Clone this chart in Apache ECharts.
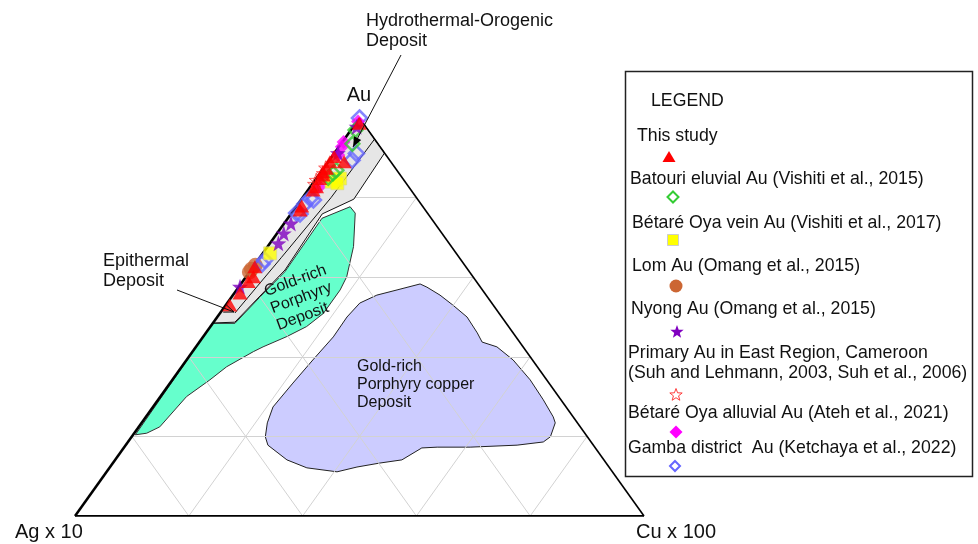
<!DOCTYPE html>
<html>
<head>
<meta charset="utf-8">
<script src="https://cdn.jsdelivr.net/npm/echarts@6/dist/echarts.min.js"></script>
<style>
  html, body { margin: 0; padding: 0; background: #ffffff; }
  #chart { width: 978px; height: 544px; }
</style>
</head>
<body>
<div id="chart"></div>
<script>
// ---- Ternary data: every point is [Au %, Cu %]; Ag makes up the remainder ----
const cornerLabels = ['Au', 'Ag x 10', 'Cu x 100'];
const gridSteps = [20, 40, 60, 80];

const thisStudy = [
  [98.7, 0.6], [89.0, 2.8], [90.3, 0.4], [89.0, 0.3], [87.4, 0.5], [86.5, 0.3],
  [85.7, 0.8], [84.8, 0.6], [82.7, 1.1], [81.9, 0.9], [77.9, 0.9], [76.9, 1.1],
  [62.6, 0.3], [60.1, 1.3], [58.9, 1.0], [56.0, 1.0], [53.0, 0.7]
];
const batouriEluvial = [[97.0, 0.8], [93.5, 2.0], [86.9, 2.5], [86.1, 2.3], [85.0, 2.0]];
const betareVein = [[84.4, 3.5], [84.8, 4.2], [84.0, 3.1], [83.6, 4.3], [66.0, 1.3]];
const lomAu = [[63.0, 0.2], [62.0, 0.0], [61.3, 0.0]];
const nyongAu = [[97.8, 0.6], [91.2, 0.6], [73.5, 1.2], [71.0, 1.2], [68.5, 1.5], [57.6, 0.2]];
const primaryEast = [[87.5, 0.3], [86.1, 0.6], [84.4, 0.2], [83.4, 0.4]];
const betareAlluvial = [[99.1, 0.2], [94.0, 0.2], [92.8, 0.5], [90.7, 0.9], [82.7, 1.6]];
const gambaAu = [
  [100, 0], [91.1, 3.9], [89.4, 4.0], [79.8, 1.4], [79.4, 2.2], [78.4, 1.2],
  [76.1, 0.9], [75.9, 1.6], [64.3, 1.2], [63.3, 1.2]
];

// Deposit fields, outlined in the same [Au %, Cu %] space
const orogenicField = [[100, 0], [91.2, 8.8], [79.6, 9.2], [75.9, 5.5], [61.8, 6.0], [48.7, 3.75], [48.5, 0]];
const epithermalDivide = [[94.7, 5.3], [80.0, 5.0], [65.0, 3.8], [51.0, 2.6]];
const porphyryField = [
  [20.4, 0.4], [20.8, 2.2], [22.4, 3.7], [30.0, 4.6], [34.2, 6.6], [37.5, 7.9],
  [41.3, 10.7], [42.5, 11.8], [45.1, 14.7], [47.6, 16.9], [50.9, 18.2], [56.8, 18.2],
  [60.1, 17.7], [67.7, 15.1], [76.1, 11.2], [77.7, 9.5], [74.8, 6.0], [61.4, 6.2],
  [55.1, 5.0], [48.4, 3.9], [48.4, 0]
];
const porphyryCuField = [
  [19.9, 23.5], [17.8, 25.0], [14.1, 30.2], [12.1, 34.7], [11.1, 40.5], [12.3, 43.4],
  [13.3, 46.9], [14.1, 50.4], [17.1, 52.4], [17.3, 55.0], [17.3, 60.8], [17.8, 68.8],
  [18.6, 73.0], [19.9, 73.6], [23.4, 72.7], [24.9, 71.6], [29.2, 67.7], [34.2, 62.9],
  [39.2, 57.4], [42.5, 52.9], [43.7, 49.7], [46.0, 47.7], [50.0, 43.9], [53.0, 39.9],
  [55.5, 36.4], [57.5, 33.1], [58.3, 31.5], [56.8, 28.2], [55.5, 25.3], [53.5, 23.3],
  [50.0, 22.8], [45.0, 22.9], [39.2, 22.2], [33.4, 21.6], [27.4, 21.1], [23.4, 22.1]
];

const legendTitle = 'LEGEND';
const legendEntries = [
  'This study',
  'Batouri eluvial Au (Vishiti et al., 2015)',
  'Bétaré Oya vein Au (Vishiti et al., 2017)',
  'Lom Au (Omang et al., 2015)',
  'Nyong Au (Omang et al., 2015)',
  'Primary Au in East Region, Cameroon\n(Suh and Lehmann, 2003, Suh et al., 2006)',
  'Bétaré Oya alluvial Au (Ateh et al., 2021)',
  'Gamba district  Au (Ketchaya et al., 2022)'
];

// ---- helpers ----
// [Au, Cu] -> plot space: Ag corner at (0,0), Cu corner at (1,0), Au apex at (0.5,1)
function toXY(p) {
  const au = p[0] / 100, cu = p[1] / 100;
  return [cu + au / 2, au];
}

function starPoints(cx, cy, R, r) {
  const pts = [];
  for (let i = 0; i < 10; i++) {
    const a = -Math.PI / 2 + i * Math.PI / 5;
    const rad = i % 2 ? r : R;
    pts.push([cx + rad * Math.cos(a), cy + rad * Math.sin(a)]);
  }
  return pts;
}
const starSymbol = 'path://M' + starPoints(50, 50, 50, 20)
  .map(p => p[0].toFixed(2) + ',' + p[1].toFixed(2)).join('L') + 'Z';

const FONT = '"Liberation Sans", Arial, Helvetica, sans-serif';
const TEXT = '#111111';

function fieldSeries(name, verts, fill, stroke, lw, z) {
  return {
    type: 'custom', name: name, coordinateSystem: 'cartesian2d', silent: true, clip: false, z: z,
    data: [[0, 0]],
    renderItem: function (params, api) {
      return {
        type: 'polygon',
        shape: { points: verts.map(v => api.coord(toXY(v))) },
        style: { fill: fill, stroke: stroke, lineWidth: lw }
      };
    }
  };
}

function pathSeries(name, verts, stroke, lw, z) {
  return {
    type: 'custom', name: name, coordinateSystem: 'cartesian2d', silent: true, clip: false, z: z,
    data: [[0, 0]],
    renderItem: function (params, api) {
      return {
        type: 'polyline',
        shape: { points: verts.map(v => api.coord(toXY(v))) },
        style: { fill: 'none', stroke: stroke, lineWidth: lw }
      };
    }
  };
}

// grid lines at constant Au, constant Cu and constant Ag
const gridSegments = [];
gridSteps.forEach(s => {
  gridSegments.push({ coords: [toXY([s, 0]), toXY([s, 100 - s])] });
  gridSegments.push({ coords: [toXY([0, s]), toXY([100 - s, s])] });
  gridSegments.push({ coords: [toXY([0, 100 - s]), toXY([100 - s, 0])] });
});

const frameSegments = [
  { coords: [toXY([0, 0]), toXY([100, 0])], lineStyle: { width: 2.6 } },
  { coords: [toXY([0, 0]), toXY([0, 100])], lineStyle: { width: 2 } },
  { coords: [toXY([100, 0]), toXY([0, 100])], lineStyle: { width: 1.6 } }
];

function markerSeries(name, data, symbol, size, itemStyle, z) {
  return {
    type: 'scatter', name: name, data: data.map(toXY), symbol: symbol, symbolSize: size,
    itemStyle: itemStyle, z: z, clip: false, silent: true
  };
}

const styles = [
  { symbol: 'triangle', size: [15, 13], item: { color: '#ff0000' } },
  { symbol: 'diamond', size: 14, item: { color: 'rgba(255,255,255,0)', borderColor: '#33cc33', borderWidth: 2.4 } },
  { symbol: 'rect', size: 13, item: { color: '#ffff00', borderColor: '#d6d690', borderWidth: 0.8 } },
  { symbol: 'circle', size: 15, item: { color: '#cc6633' } },
  { symbol: starSymbol, size: 16, item: { color: '#8000c0' } },
  { symbol: starSymbol, size: 14, item: { color: 'rgba(255,255,255,0)', borderColor: '#ff3b3b', borderWidth: 1 } },
  { symbol: 'diamond', size: 14, item: { color: '#ff00ff' } },
  { symbol: 'diamond', size: 15, item: { color: 'rgba(255,255,255,0)', borderColor: '#6666ff', borderWidth: 2.6 } }
];
const seriesData = [thisStudy, batouriEluvial, betareVein, lomAu, nyongAu, primaryEast, betareAlluvial, gambaAu];
// stacking order of the marker layers (lowest first)
const drawOrder = [3, 7, 6, 2, 1, 4, 5, 0];

const series = [
  fieldSeries('Gold-rich Porphyry Deposit', porphyryField, '#66ffcc', '#333333', 1, 1),
  fieldSeries('Gold-rich Porphyry copper Deposit', porphyryCuField, '#ccccff', '#222222', 1, 1),
  {
    type: 'lines', coordinateSystem: 'cartesian2d', silent: true, z: 2,
    data: gridSegments, lineStyle: { color: '#d2d2d2', width: 1, opacity: 1 }
  },
  fieldSeries('Hydrothermal-Orogenic Deposit', orogenicField, '#e6e6e6', '#111111', 1, 3),
  pathSeries('Epithermal divide', epithermalDivide, '#111111', 1, 3),
  {
    type: 'lines', coordinateSystem: 'cartesian2d', silent: true, z: 4,
    data: frameSegments, lineStyle: { color: '#000000', width: 1.6, opacity: 1 }
  }
];
drawOrder.forEach((idx, k) => {
  const st = styles[idx];
  series.push(markerSeries(legendEntries[idx], seriesData[idx], st.symbol, st.size, st.item, 10 + k));
});

// ---- annotation & legend graphics (pixel layout) ----
const graphics = [];
function addText(text, x, y, size, align, extra) {
  graphics.push(Object.assign({
    type: 'text', x: x, y: y, z: 100,
    style: { text: text, font: size + 'px ' + FONT, fill: TEXT, align: align || 'left', verticalAlign: 'middle', lineHeight: Math.round(size * 1.12) }
  }, extra || {}));
}
function addArrow(x1, y1, x2, y2, filled) {
  graphics.push({ type: 'line', z: 100, shape: { x1: x1, y1: y1, x2: x2, y2: y2 }, style: { stroke: '#111', lineWidth: 1 } });
  const len = Math.hypot(x2 - x1, y2 - y1), dx = (x2 - x1) / len, dy = (y2 - y1) / len;
  const L = 10, W = 4;
  const bx = x2 - dx * L, by = y2 - dy * L;
  const p1 = [bx - dy * W, by + dx * W], p2 = [bx + dy * W, by - dx * W];
  if (filled) {
    graphics.push({ type: 'polygon', z: 101, shape: { points: [[x2, y2], p1, p2] }, style: { fill: '#000' } });
  } else {
    graphics.push({ type: 'polyline', z: 101, shape: { points: [p1, [x2, y2], p2] }, style: { stroke: '#111', lineWidth: 1, fill: 'none' } });
  }
}

// corner titles
addText(cornerLabels[0], 359, 95, 20, 'center');
addText(cornerLabels[1], 15, 532, 20, 'left');
addText(cornerLabels[2], 636, 532, 20, 'left');

// field labels
addText('Hydrothermal-Orogenic\nDeposit', 366, 31.5, 18, 'left', null);
addText('Epithermal\nDeposit', 103, 271.5, 18, 'left', null);
addText('Gold-rich\nPorphyry copper\nDeposit', 357, 385, 16, 'left', null);
const tilt = 0.355;
['Gold-rich', 'Porphyry', 'Deposit'].forEach((t, i) => {
  graphics.push({
    type: 'text', x: 265 + i * 6.1, y: 292 + i * 17, rotation: tilt, z: 100,
    style: { text: t, font: '16px ' + FONT, fill: TEXT, align: 'left', verticalAlign: 'middle' }
  });
});
addArrow(401, 55, 353, 147, true);
addArrow(177, 290, 234, 312, false);

// legend box
graphics.push({ type: 'rect', z: 90, shape: { x: 625.5, y: 71.5, width: 347, height: 405 }, style: { fill: '#ffffff', stroke: '#222222', lineWidth: 1.5 } });
addText(legendTitle, 651, 101, 17.7, 'left');
const legendTextPos = [[637, 136], [630, 179], [632, 223], [632, 266], [631, 309], [628, 363], [628, 413], [628, 448]];
legendEntries.forEach((t, i) => addText(t, legendTextPos[i][0], legendTextPos[i][1], 17.7, 'left'));

function legendMark(i, cx, cy) {
  const z = 100;
  if (i === 0) graphics.push({ type: 'polygon', z, shape: { points: [[cx, cy - 6], [cx + 6.5, cy + 5], [cx - 6.5, cy + 5]] }, style: { fill: '#ff0000' } });
  if (i === 1) graphics.push({ type: 'polygon', z, shape: { points: [[cx, cy - 5.5], [cx + 5.5, cy], [cx, cy + 5.5], [cx - 5.5, cy]] }, style: { fill: 'none', stroke: '#33cc33', lineWidth: 2 } });
  if (i === 2) graphics.push({ type: 'rect', z, shape: { x: cx - 5.5, y: cy - 5.5, width: 11, height: 11 }, style: { fill: '#ffff00', stroke: '#cccccc', lineWidth: 1 } });
  if (i === 3) graphics.push({ type: 'circle', z, shape: { cx, cy, r: 6.5 }, style: { fill: '#cc6633' } });
  if (i === 4) graphics.push({ type: 'polygon', z, shape: { points: starPoints(cx, cy, 7, 2.9) }, style: { fill: '#8000c0' } });
  if (i === 5) graphics.push({ type: 'polygon', z, shape: { points: starPoints(cx, cy, 6.5, 2.7) }, style: { fill: 'none', stroke: '#ff3b3b', lineWidth: 1 } });
  if (i === 6) graphics.push({ type: 'polygon', z, shape: { points: [[cx, cy - 6.5], [cx + 6.5, cy], [cx, cy + 6.5], [cx - 6.5, cy]] }, style: { fill: '#ff00ff' } });
  if (i === 7) graphics.push({ type: 'polygon', z, shape: { points: [[cx, cy - 5], [cx + 5, cy], [cx, cy + 5], [cx - 5, cy]] }, style: { fill: 'none', stroke: '#6666ff', lineWidth: 2 } });
}
const legendMarkPos = [[669, 157], [673, 197], [673, 240], [676, 286], [677, 332], [676, 395], [676, 432], [675, 466]];
legendMarkPos.forEach((p, i) => legendMark(i, p[0], p[1]));

const option = {
  animation: false,
  backgroundColor: '#ffffff',
  grid: { left: 75, top: 118, width: 569, height: 398 },
  xAxis: { type: 'value', min: 0, max: 1, show: false },
  yAxis: { type: 'value', min: 0, max: 1, show: false },
  series: series,
  graphic: { elements: graphics }
};

const chart = echarts.init(document.getElementById('chart'), null, { renderer: 'canvas' });
chart.setOption(option);
</script>
</body>
</html>
